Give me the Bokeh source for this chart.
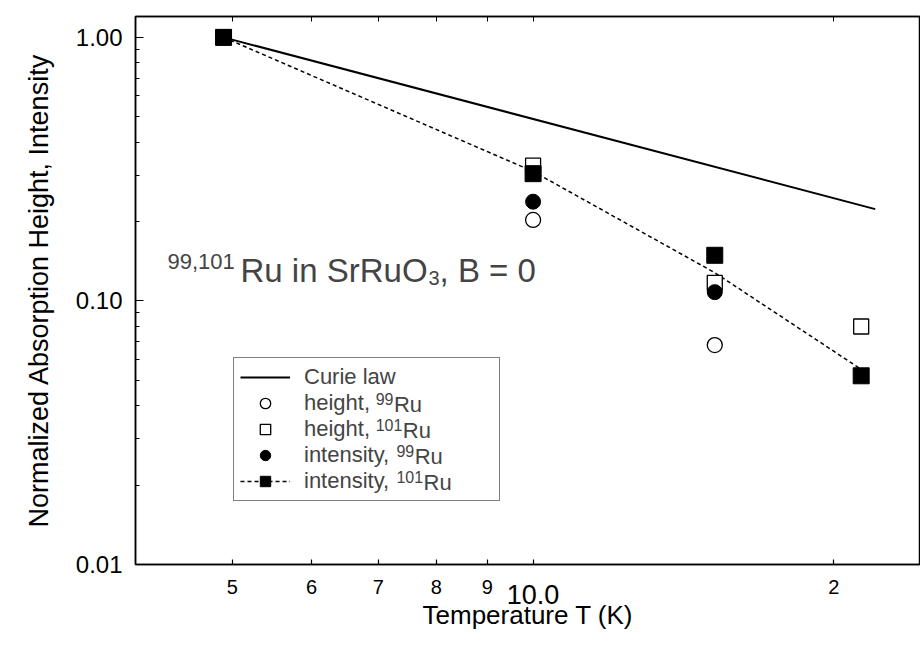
from bokeh.plotting import figure
from bokeh.models import Range1d, FixedTicker, LogAxis, Legend, LegendItem, Label
from bokeh.embed import file_html
from bokeh.resources import INLINE

# ---- data ----
curie_T = [4.9, 22.0]
curie_y = [1.0, 0.223]

fit_T = [4.9, 10.0, 15.2, 21.3]
fit_y = [1.0, 0.31, 0.128, 0.055]

h99_T = [4.9, 10.0, 15.2]
h99_y = [1.0, 0.203, 0.068]

h101_T = [4.9, 10.0, 15.2, 21.3]
h101_y = [1.0, 0.326, 0.117, 0.080]

i99_T = [4.9, 10.0, 15.2]
i99_y = [1.0, 0.238, 0.108]

i101_T = [4.9, 10.0, 15.2, 21.3]
i101_y = [1.0, 0.304, 0.149, 0.052]

x_ticks = [5, 6, 7, 8, 9, 10, 20]
x_tick_labels = ["5", "6", "7", "8", "9", "", "2"]
x_big_tick = [10]
x_big_label = ["10.0"]
y_ticks = [0.01, 0.1, 1.0]
y_tick_labels = ["0.01", "0.10", "1.00"]
y_minor = [m * d for d in (0.01, 0.1) for m in range(2, 10)]

FONT = "Liberation Sans"

p = figure(width=920, height=648, x_axis_type="log", y_axis_type="log",
           x_axis_location=None,
           x_range=Range1d(4.0, 24.42), y_range=Range1d(0.01, 1.2),
           output_backend="svg", toolbar_location=None,
           min_border_left=135, min_border_right=0, min_border_top=16, min_border_bottom=84)
p.grid.visible = False
p.outline_line_color = "black"
p.outline_line_width = 1.5
p.background_fill_color = "white"
p.border_fill_color = "white"


def style(ax):
    ax.axis_line_color = "black"
    ax.axis_line_width = 1.5
    ax.major_tick_out = 0
    ax.minor_tick_out = 0
    ax.major_tick_line_width = 1.2
    ax.minor_tick_line_width = 1.2
    ax.major_label_text_font = FONT
    ax.axis_label_text_font = FONT
    ax.axis_label_text_font_style = "normal"
    ax.axis_label_text_color = "black"
    ax.major_label_text_color = "black"


# x axis: small labels
xa = LogAxis(ticker=FixedTicker(ticks=x_ticks, minor_ticks=[]),
             major_label_overrides={t: l for t, l in zip(x_ticks, x_tick_labels)})
style(xa)
xa.major_tick_in = 5
xa.minor_tick_in = 0
xa.major_label_text_font_size = "20px"
xa.major_label_standoff = 15
p.add_layout(xa, "below")

# x axis: the larger "10.0" label and the title
xb = LogAxis(ticker=FixedTicker(ticks=x_big_tick, minor_ticks=[]),
             major_label_overrides={t: l for t, l in zip(x_big_tick, x_big_label)},
             axis_label="Temperature T (K)")
style(xb)
xb.axis_line_color = None
xb.major_tick_line_color = None
xb.minor_tick_line_color = None
xb.major_label_text_font_size = "27px"
xb.major_label_standoff = -12
xb.axis_label_text_font_size = "26px"
xb.axis_label_standoff = -7
p.add_layout(xb, "below")

# y axis
ya = p.yaxis[0]
ya.ticker = FixedTicker(ticks=y_ticks, minor_ticks=y_minor)
ya.major_label_overrides = {t: l for t, l in zip(y_ticks, y_tick_labels)}
ya.axis_label = "Normalized Absorption Height, Intensity"
style(ya)
ya.major_tick_in = 8
ya.minor_tick_in = 4
ya.major_label_text_font_size = "24px"
ya.major_label_standoff = 13
ya.axis_label_text_font_size = "27px"
ya.axis_label_standoff = 19

# top axis (ticks only)
top = LogAxis(ticker=FixedTicker(ticks=x_ticks, minor_ticks=[]),
              major_label_overrides={t: "" for t in x_ticks},
              major_label_text_font_size="1px", major_label_standoff=0,
              major_tick_in=5, major_tick_out=0, minor_tick_in=0, minor_tick_out=0,
              axis_line_color="black", axis_line_width=1.5)
p.add_layout(top, "above")

# ---- glyphs ----
curie = p.line(curie_T, curie_y, line_color="black", line_width=2)
fit = p.line(fit_T, fit_y, line_color="black", line_width=1.5, line_dash="4 3")
oc = p.scatter(h99_T, h99_y, marker="circle", size=15, fill_color="white",
               line_color="black", line_width=1.3)
osq = p.scatter(h101_T, h101_y, marker="square", size=15, fill_color="white",
                line_color="black", line_width=1.3)
fc = p.scatter(i99_T, i99_y, marker="circle", size=15, fill_color="black",
               line_color="black")
fsq = p.scatter(i101_T, i101_y, marker="square", size=16, fill_color="black",
                line_color="black")

# ---- legend (transparent, so that the isotope labels below it show) ----
LEG_X, LEG_Y, PAD, GW, GH, STAND, LW = 98, 63, 6, 50, 26, 14, 189
LFS = 22
legend = Legend(items=[
    LegendItem(label="Curie law", renderers=[curie]),
    LegendItem(label="height,", renderers=[oc]),
    LegendItem(label="height,", renderers=[osq]),
    LegendItem(label="intensity,", renderers=[fc]),
    LegendItem(label="intensity,", renderers=[fit, fsq]),
], location=(LEG_X, LEG_Y), glyph_width=GW, glyph_height=GH, label_height=20,
    label_width=LW, spacing=0, padding=PAD, margin=0, label_standoff=STAND,
    label_text_font=FONT, label_text_font_size=f"{LFS}px",
    border_line_color="black", border_line_width=1.2,
    background_fill_alpha=0.0)
p.add_layout(legend)

# superscripted isotope parts of the legend labels
leg_h = 2 * PAD + 5 * GH
text_x0 = LEG_X + PAD + GW + STAND
w_height = 3.28 * LFS      # width of "height, " in Liberation Sans
w_intens = 4.224 * LFS     # width of "intensity, "
SFS = 16
iso = [("99", w_height), ("101", w_height), ("99", w_intens), ("101", w_intens)]
for i, (mass, w) in enumerate(iso, start=1):
    cy = LEG_Y + leg_h - PAD - GH / 2 - GH * i
    sx = text_x0 + w
    p.add_layout(Label(x=sx, y=cy + 6, x_units="screen", y_units="screen", text=mass,
                       text_font=FONT, text_font_size=f"{SFS}px", text_baseline="middle",
                       level="overlay"))
    p.add_layout(Label(x=sx + 0.556 * SFS * len(mass) + 0.5, y=cy, x_units="screen",
                       y_units="screen", text="Ru", text_font=FONT,
                       text_font_size=f"{LFS}px", text_baseline="middle",
                       level="overlay"))

# annotation text
AFS = 33
p.add_layout(Label(x=32, y=303, x_units="screen", y_units="screen", text="99,101",
                   text_font=FONT, text_font_size="22px", text_baseline="alphabetic"))
p.add_layout(Label(x=105, y=294, x_units="screen", y_units="screen", text="Ru in SrRuO",
                   text_font=FONT, text_font_size=f"{AFS}px", text_baseline="alphabetic"))
p.add_layout(Label(x=105 + 5.668 * AFS + 1, y=287, x_units="screen", y_units="screen",
                   text="3", text_font=FONT, text_font_size="20px",
                   text_baseline="alphabetic"))
p.add_layout(Label(x=105 + 5.668 * AFS + 12, y=294, x_units="screen", y_units="screen",
                   text=", B = 0", text_font=FONT, text_font_size=f"{AFS}px",
                   text_baseline="alphabetic"))

open("out.html", "w").write(file_html(p, INLINE))
